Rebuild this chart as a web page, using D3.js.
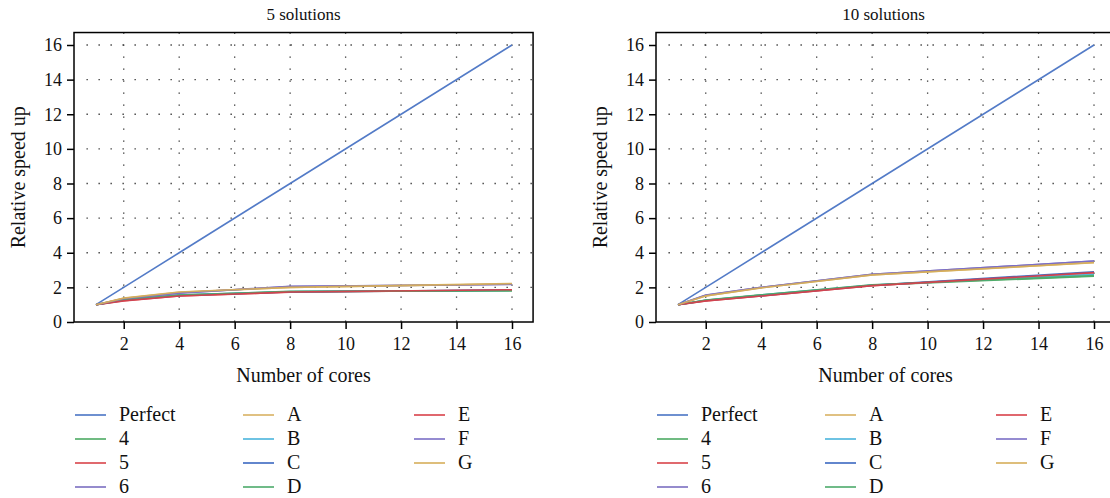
<!DOCTYPE html>
<html>
<head>
<meta charset="utf-8">
<script src="https://cdn.jsdelivr.net/npm/d3@7"></script>
<style>
  body { margin: 0; background: #fff; }
</style>
</head>
<body>
<svg id="chart" width="1110" height="498"></svg>
<script>
// number of cores measured
var cores = [1, 2, 4, 8, 16];
var seriesNames = ["Perfect", "4", "5", "6", "A", "B", "C", "D", "E", "F", "G"];
var seriesColors = ["#4a74c4", "#4caa62", "#d8434a", "#7a6ec0", "#d8b262",
                    "#4ab4dc", "#3a68c0", "#4caa6a", "#d8404a", "#7a6ec6", "#d6ae5a"];
var xTicks = [2, 4, 6, 8, 10, 12, 14, 16];
var yTicks = [0, 2, 4, 6, 8, 10, 12, 14, 16];

// 5 solutions
var perfect5 = [1, 2, 4, 8, 16];
var s4_5 = [1, 1.28, 1.55, 1.75, 1.82];
var s5_5 = [1, 1.22, 1.50, 1.72, 1.85];
var s6_5 = [1, 1.35, 1.68, 2.05, 2.18];
var sA_5 = [1, 1.37, 1.72, 2.00, 2.20];
var sB_5 = [1, 1.27, 1.55, 1.76, 1.83];
var sC_5 = [1, 1.26, 1.53, 1.74, 1.84];
var sD_5 = [1, 1.29, 1.56, 1.77, 1.80];
var sE_5 = [1, 1.23, 1.50, 1.73, 1.86];
var sF_5 = [1, 1.34, 1.67, 2.06, 2.17];
var sG_5 = [1, 1.38, 1.73, 2.00, 2.22];

// 10 solutions
var perfect10 = [1, 2, 4, 8, 16];
var s4_10 = [1, 1.25, 1.55, 2.12, 2.65];
var s5_10 = [1, 1.22, 1.50, 2.10, 2.85];
var s6_10 = [1, 1.55, 2.00, 2.75, 3.52];
var sA_10 = [1, 1.50, 1.98, 2.72, 3.42];
var sB_10 = [1, 1.26, 1.56, 2.13, 2.75];
var sC_10 = [1, 1.24, 1.52, 2.12, 2.90];
var sD_10 = [1, 1.27, 1.57, 2.15, 2.68];
var sE_10 = [1, 1.22, 1.50, 2.10, 2.85];
var sF_10 = [1, 1.56, 2.00, 2.76, 3.52];
var sG_10 = [1, 1.51, 1.97, 2.72, 3.44];

var panels = [
  { title: "5 solutions", left: 74,
    values: [perfect5, s4_5, s5_5, s6_5, sA_5, sB_5, sC_5, sD_5, sE_5, sF_5, sG_5] },
  { title: "10 solutions", left: 656,
    values: [perfect10, s4_10, s5_10, s6_10, sA_10, sB_10, sC_10, sD_10, sE_10, sF_10, sG_10] }
];

var serif = "'Liberation Serif', 'DejaVu Serif', serif";
var svg = d3.select("#chart");

function label(g, size) {
  return g.append("text").style("font-family", serif)
    .style("font-size", size + "px").style("fill", "#111");
}

function drawPanel(p) {
  var x = d3.scaleLinear().domain([1, 16]).range([p.left + 22, p.left + 438]);
  var y = d3.scaleLinear().domain([0, 16]).range([322, 45]);
  var x0 = x(0.207), x1 = x(16.76), yTop = y(16.72), yBot = y(0);
  var g = svg.append("g");

  // dotted grid
  g.selectAll(".hgrid").data(yTicks.slice(1)).enter().append("line")
    .attr("x1", x0 + 12.5).attr("x2", x1)
    .attr("y1", function (d) { return y(d); }).attr("y2", function (d) { return y(d); })
    .attr("stroke", "#333").attr("stroke-width", 1.3)
    .attr("stroke-dasharray", "1.3,10.7");
  g.selectAll(".vgrid").data(xTicks).enter().append("line")
    .attr("x1", function (d) { return x(d); }).attr("x2", function (d) { return x(d); })
    .attr("y1", yTop).attr("y2", yBot)
    .attr("stroke", "#333").attr("stroke-width", 1.3)
    .attr("stroke-dasharray", "1.3,10.7");

  // data lines
  var line = d3.line()
    .x(function (d, i) { return x(cores[i]); })
    .y(function (d) { return y(d); });
  g.selectAll(".series").data(p.values).enter().append("path")
    .attr("d", line)
    .attr("fill", "none")
    .attr("stroke", function (d, i) { return seriesColors[i]; })
    .attr("stroke-width", 1.6)
    .attr("stroke-opacity", 0.95);

  // frame
  g.append("rect")
    .attr("x", x0).attr("y", yTop)
    .attr("width", x1 - x0).attr("height", yBot - yTop)
    .attr("fill", "none").attr("stroke", "#000").attr("stroke-width", 1.5);

  // axes
  var yAxis = g.append("g").attr("transform", "translate(" + x0 + ",0)")
    .call(d3.axisLeft(y).tickValues(yTicks).tickSize(7).tickSizeOuter(0).tickPadding(5));
  var xAxis = g.append("g").attr("transform", "translate(0," + yBot + ")")
    .call(d3.axisBottom(x).tickValues(xTicks).tickSize(7).tickSizeOuter(0).tickPadding(8));
  [xAxis, yAxis].forEach(function (a) {
    a.select(".domain").remove();
    a.selectAll(".tick line").attr("stroke", "#000").attr("stroke-width", 1.5);
    a.selectAll("text").style("font-family", serif)
      .style("font-size", "18px").style("fill", "#111");
  });

  // title and labels
  label(g, 17).attr("x", (x0 + x1) / 2 - (p.left > 600 ? 2 : 0)).attr("y", 20)
    .attr("text-anchor", "middle").text(p.title);
  label(g, 20).attr("x", (x0 + x1) / 2).attr("y", 382)
    .attr("text-anchor", "middle").text("Number of cores");
  label(g, 20)
    .attr("transform", "translate(" + (p.left - 49) + "," + ((yTop + yBot) / 2) + ") rotate(-90)")
    .attr("text-anchor", "middle").text("Relative speed up");

  // legend
  var colX = [p.left + 1, p.left + 169, p.left + 340];
  var rowY = [415, 439, 463, 487];
  var cols = [[0, 1, 2, 3], [4, 5, 6, 7], [8, 9, 10]];
  cols.forEach(function (col, ci) {
    col.forEach(function (si, ri) {
      g.append("line")
        .attr("x1", colX[ci]).attr("x2", colX[ci] + 31)
        .attr("y1", rowY[ri]).attr("y2", rowY[ri])
        .attr("stroke", seriesColors[si]).attr("stroke-width", 1.6);
      label(g, 20).attr("x", colX[ci] + 44).attr("y", rowY[ri] + 6)
        .text(seriesNames[si]);
    });
  });
}

panels.forEach(drawPanel);
</script>
</body>
</html>
